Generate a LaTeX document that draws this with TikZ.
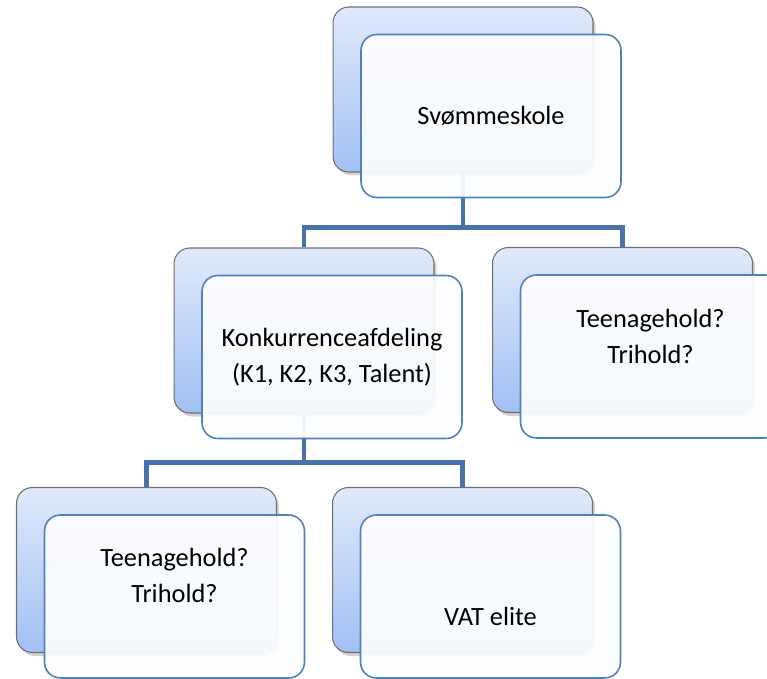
\documentclass[tikz,border=0pt]{standalone}
\usepackage{fontspec}
\setmainfont{Carlito}
\usepackage{tikz}
\usetikzlibrary{shadows}

\definecolor{backtop}{HTML}{E0EAFB}
\definecolor{backbot}{HTML}{A2C0F4}
\definecolor{backline}{HTML}{6E6E6E}
\definecolor{frontline}{HTML}{4F81BD}
\definecolor{frontfill}{HTML}{FCFDFF}
\definecolor{linkcol}{HTML}{4A72AA}

\begin{document}
\begin{tikzpicture}[x=0.02cm,y=-0.02cm,
            back/.style={draw=backline,line width=0.6pt,rectangle,rounded corners=9pt,
              minimum width=5.2cm,minimum height=3.3cm,
              top color=backtop,bottom color=backbot,
              drop shadow={opacity=0.35,shadow xshift=1.5pt,shadow yshift=-2pt}},
            front/.style={draw=frontline,line width=0.9pt,rectangle,rounded corners=9pt,
              minimum width=5.2cm,minimum height=3.26cm,
              fill=frontfill,fill opacity=0.93,xshift=0.56cm,yshift=-0.53cm},
            lab/.style={align=center,font=\fontsize{15}{20.5}\selectfont},
            link/.style={draw=linkcol,line width=2.6pt}
          ]
          \useasboundingbox (0,0) rectangle (767,679);
          \clip (0,0) rectangle (767,679);

          %back boxes
          \node[back] (top) at (463,89.5) {};
          \node[back] (kon) at (304,330.5) {};
          \node[back] (teen) at (622.5,330) {};
          \node[back] (teen2) at (146.5,570) {};
          \node[back] (vat) at (462.5,570) {};

          %links
          \path[link]
          (top.south) -- ++(0,55) -| (kon.north)
          (top.south) ++(0,55) -| (teen.north)
          (kon.south) -- ++(0,49) -| (teen2.north)
          (kon.south) ++(0,49) -| (vat.north)
          ;

          %front boxes
          \node[front] (topf) at (top.center) {};
          \node[front] (konf) at (kon.center) {};
          \node[front] (teenf) at (teen.center) {};
          \node[front] (teen2f) at (teen2.center) {};
          \node[front] (vatf) at (vat.center) {};

          %labels
          \node[lab] (toplab) at (topf.center) {Svømmeskole};
          \node[lab] (konlab) at (konf.center) {Konkurrenceafdeling\\(K1, K2, K3, Talent)};
          \node[lab,yshift=0.4cm] (teenlab) at (teenf.center) {Teenagehold?\\Trihold?};
          \node[lab,yshift=0.42cm] (teen2lab) at (teen2f.center) {Teenagehold?\\Trihold?};
          \node[lab,yshift=-0.4cm] (vatlab) at (vatf.center) {VAT elite};

      \end{tikzpicture}
\end{document}
